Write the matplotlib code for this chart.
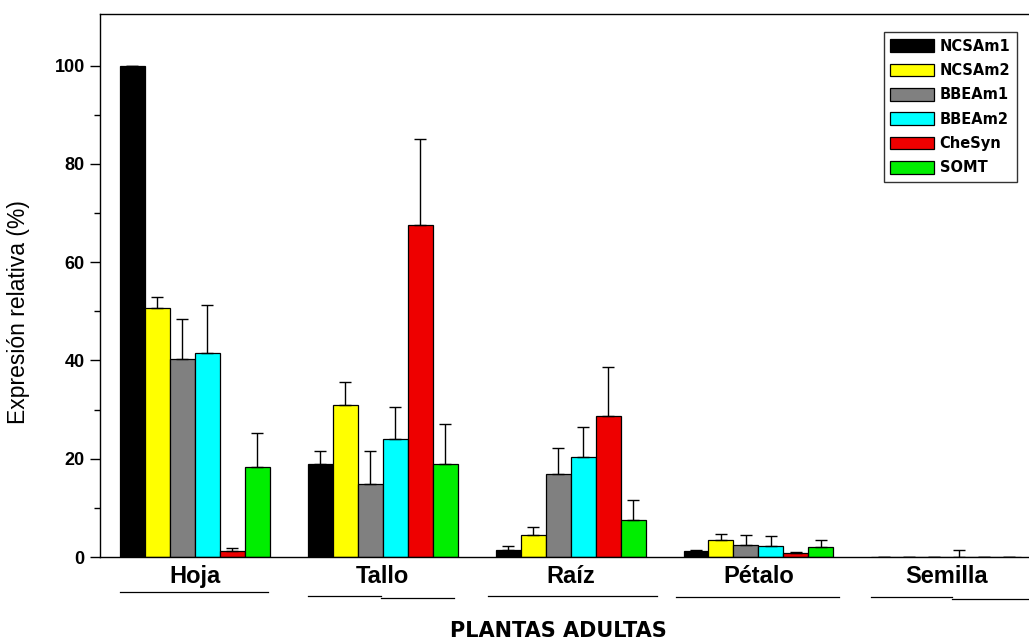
import matplotlib
matplotlib.use("Agg")
import matplotlib.pyplot as plt
import numpy as np
from matplotlib.ticker import MultipleLocator, FixedLocator

plt.rcParams['font.family'] = ['Liberation Sans', 'DejaVu Sans']

categories = ["Hoja", "Tallo", "Raíz", "Pétalo", "Semilla"]
series = ["NCSAm1", "NCSAm2", "BBEAm1", "BBEAm2", "CheSyn", "SOMT"]
colors = ["#000000", "#ffff00", "#808080", "#00ffff", "#ee0000", "#00ee00"]

NCSAm1 = [100.0, 19.0, 1.5, 1.2, 0.0]
NCSAm2 = [50.7, 31.0, 4.5, 3.5, 0.0]
BBEAm1 = [40.2, 14.8, 16.8, 2.5, 0.0]
BBEAm2 = [41.5, 24.0, 20.3, 2.2, 0.0]
CheSyn = [1.2, 67.5, 28.7, 0.9, 0.0]
SOMT = [18.4, 19.0, 7.5, 2.1, 0.0]

NCSAm1_err = [0.0, 2.6, 0.7, 0.3, 0.0]
NCSAm2_err = [2.3, 4.6, 1.6, 1.2, 0.0]
BBEAm1_err = [8.3, 6.8, 5.4, 2.0, 0.0]
BBEAm2_err = [9.8, 6.5, 6.2, 2.0, 1.5]
CheSyn_err = [0.7, 17.6, 10.0, 0.2, 0.0]
SOMT_err = [6.9, 8.1, 4.1, 1.3, 0.0]

values = [NCSAm1, NCSAm2, BBEAm1, BBEAm2, CheSyn, SOMT]
errors = [NCSAm1_err, NCSAm2_err, BBEAm1_err, BBEAm2_err, CheSyn_err, SOMT_err]

fig = plt.figure(figsize=(10.29, 6.41), dpi=100)
ax = fig.add_axes([100/1029, 1-557/641, 1-100/1029, (557-14)/641])

x = np.arange(len(categories))
w = 0.133
for i, (name, vals, errs, c) in enumerate(zip(series, values, errors, colors)):
    pos = x + (i - 2.5) * w
    ax.bar(pos, vals, width=w, color=c, edgecolor="black", linewidth=0.9, label=name, zorder=2)
    ax.errorbar(pos, vals, yerr=[np.zeros(len(errs)), errs], fmt="none", ecolor="black",
                elinewidth=1.0, capsize=4, capthick=1.0, zorder=3)

ax.set_xlim(-0.505, 4.44)
ax.set_ylim(0, 110.5)
ax.yaxis.set_major_locator(MultipleLocator(20))
ax.yaxis.set_minor_locator(FixedLocator([10, 30, 50, 70, 90]))
ax.tick_params(axis="y", which="major", length=7, width=1, labelsize=13, pad=4)
ax.tick_params(axis="y", which="minor", length=4.5, width=1)
for lab in ax.get_yticklabels():
    lab.set_fontweight("bold")
ax.spines["right"].set_visible(False)
for s in ["left", "top", "bottom"]:
    ax.spines[s].set_linewidth(1.0)

ax.set_xticks(x)
ax.set_xticklabels(categories, fontsize=17, fontweight="bold")
ax.tick_params(axis="x", length=0, pad=6)

ax.set_ylabel("Expresión relativa (%)", fontsize=16.5)
ax.yaxis.set_label_coords(-0.075, 0.451)
ax.set_xlabel("PLANTAS ADULTAS", fontsize=15, fontweight="bold", family=["DejaVu Sans"])
ax.xaxis.set_label_coords(0.493, -0.117)

# underline segments below category labels
segs = [
    [(-0.40, 0.39, -35)],
    [(-0.40, -0.01, -39), (-0.01, 0.38, -41)],
    [(-0.44, 0.46, -39)],
    [(-0.44, 0.43, -40)],
    [(-0.40, 0.03, -40), (0.03, 0.44, -42)],
]
for xi, segl in zip(x, segs):
    for a, b, dy in segl:
        ax.plot([xi + a, xi + b], [dy/543, dy/543], color="black", lw=0.9,
                transform=ax.get_xaxis_transform(), clip_on=False)

leg = ax.legend(loc="upper right", bbox_to_anchor=((1017-100)/929, (557-32)/543),
                frameon=True, fancybox=False, edgecolor="black",
                prop={"family": "DejaVu Sans", "weight": "bold", "size": 10.5},
                handlelength=3.0, handleheight=0.95, labelspacing=0.64,
                borderpad=0.45, handletextpad=0.4, borderaxespad=0)
leg.get_frame().set_linewidth(1.0)

fig.savefig("out.png", dpi=100)
